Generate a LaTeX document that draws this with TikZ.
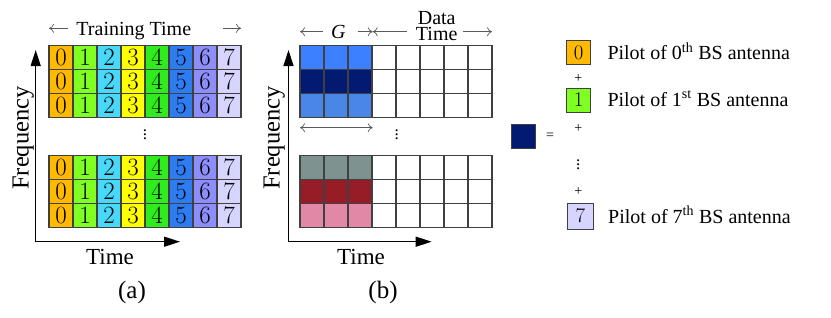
\documentclass[tikz,border=0pt]{standalone}
\usepackage[no-math]{fontspec}
\setmainfont{Liberation Serif}
\usetikzlibrary{arrows.meta,positioning,calc}

\definecolor{pil0}{HTML}{FFBA00}
\definecolor{pil1}{HTML}{80FF22}
\definecolor{pil2}{HTML}{48D8FA}
\definecolor{pil3}{HTML}{FFFF00}
\definecolor{pil4}{HTML}{30EC1E}
\definecolor{pil5}{HTML}{2E7CF2}
\definecolor{pil6}{HTML}{8E8EFA}
\definecolor{pil7}{HTML}{D5D5FF}
\definecolor{gblue}{HTML}{3D80FF}
\definecolor{gnavy}{HTML}{021A72}
\definecolor{gsky}{HTML}{4A86E6}
\definecolor{ggray}{HTML}{7E9290}
\definecolor{gred}{HTML}{961C28}
\definecolor{gpink}{HTML}{E088A6}
\definecolor{gridline}{HTML}{404040}

\begin{document}
\begin{tikzpicture}[
  x=1pt, y=-1pt,
  cell/.style={draw=gridline, line width=1.2pt, minimum size=24pt, inner sep=0pt, outer sep=0pt},
  digit/.style={font=\fontsize{27}{27}\selectfont},
  keydigit/.style={font=\fontsize{22}{22}\selectfont},
  lbl/.style={font=\fontsize{20}{24}\selectfont, inner sep=0pt},
  axlbl/.style={font=\fontsize{23}{23}\selectfont, inner sep=0pt},
  sym/.style={font=\fontsize{14}{14}\selectfont, inner sep=0pt},
  dots/.style={font=\fontsize{17}{17}\selectfont, inner sep=0pt},
  axis/.style={line width=1.3pt, {Triangle[length=16pt,width=10pt]}-{Triangle[length=16pt,width=10pt]}},
  spanarrow/.style={draw=gray!70!black, line width=0.7pt, -{To[length=5pt,width=9pt]}}
]
\useasboundingbox (0,0) rectangle (831,317);

% (a) training grid
\foreach \r/\y in {0/57.5,1/81.5,2/105.5,3/167.5,4/191.5,5/215.5}
  \foreach \c in {0,...,7}
    \node[cell, fill=pil\c, digit] (a-\r-\c) at (61+24*\c,\y) {$\c$};
\node[dots] (adots) at (145,132) {$\vdots$};

\node[lbl, anchor=base] (ttime) at (133.8,35) {Training Time};
\coordinate (tal) at (68,28.3);
\coordinate (tar) at (223,28.3);
\draw[spanarrow] (tal) -- (tal -| a-0-0.west);
\draw[spanarrow] (tar) -- (tar -| a-0-7.east);

\coordinate (fa) at (35.7,50);
\coordinate (oa) at (35.7,241.7);
\coordinate (ea) at (180,241.7);
\draw[axis] (fa) -- (oa) -- (ea);
\node[axlbl, rotate=90, anchor=base, font=\fontsize{24.5}{24.5}\selectfont] (freqa) at (28.5,138) {Frequency};
\node[axlbl, anchor=base] (timea) at (110,264) {Time};
\node[axlbl, anchor=base, font=\fontsize{25}{25}\selectfont] (capa) at (132,298) {(a)};

% (b) data grid
\foreach \r/\y/\col in {0/57.5/gblue,1/81.5/gnavy,2/105.5/gsky,3/167.5/ggray,4/191.5/gred,5/215.5/gpink}{
  \foreach \c in {0,1,2}
    \node[cell, fill=\col] (b-\r-\c) at (312+24*\c,\y) {};
  \foreach \c in {3,...,7}
    \node[cell, fill=white] (b-\r-\c) at (312+24*\c,\y) {};
}
\node[dots] (bdots) at (396.7,132) {$\vdots$};
\coordinate (gl) at (300,127.7);
\coordinate (gr) at (372.7,127.7);
\draw[spanarrow, {To[length=5pt,width=9pt]}-{To[length=5pt,width=9pt]}] (gl) -- (gr);

\node[lbl, anchor=base] (glen) at (338.3,38.5) {\itshape G};
\coordinate (gal) at (323,31.7);
\coordinate (gar) at (357.7,31.7);
\coordinate (gx) at (372.7,31.7);
\coordinate (dal) at (406.7,31.7);
\coordinate (dar) at (463,31.7);
\draw[spanarrow] (gal) -- (gal -| b-0-0.west);
\draw[spanarrow] (gar) -- (gx);
\draw[spanarrow] (dal) -- (gx);
\draw[spanarrow] (dar) -- (dar -| b-0-7.east);
\node[lbl, align=center, font=\fontsize{20}{15.7}\selectfont] (dtime) at (436.7,26) {Data\\Time};

\coordinate (fb) at (288.5,50);
\coordinate (ob) at (288.5,241.7);
\coordinate (eb) at (431.7,241.7);
\draw[axis] (fb) -- (ob) -- (eb);
\node[axlbl, rotate=90, anchor=base, font=\fontsize{24.5}{24.5}\selectfont] (freqb) at (279.5,138) {Frequency};
\node[axlbl, anchor=base] (timeb) at (361,264) {Time};
\node[axlbl, anchor=base, font=\fontsize{25}{25}\selectfont] (capb) at (383,298) {(b)};

% legend
\node[cell, fill=gnavy] (knavy) at (523.7,136.3) {};
\node[sym] (keq) at (550,136) {=};
\node[cell, fill=pil0, keydigit] (k0) at (578.7,52.5) {$0$};
\node[cell, fill=pil1, keydigit] (k1) at (578.7,100.3) {$1$};
\node[cell, fill=pil7, keydigit, minimum size=26pt] (k7) at (580.5,216.3) {$7$};
\node[sym] (kp1) at (578.3,79) {+};
\node[sym] (kp2) at (578.3,129) {+};
\node[dots] (kdots) at (578.3,161.7) {$\vdots$};
\node[sym] (kp3) at (578.3,191.7) {+};
\node[lbl, right=16.6pt of k0, yshift=1.5pt] (t0) {Pilot of 0\textsuperscript{th} BS antenna};
\node[lbl, right=16.6pt of k1, yshift=1.5pt] (t1) {Pilot of 1\textsuperscript{st} BS antenna};
\node[lbl, right=14.5pt of k7, yshift=1.5pt] (t7) {Pilot of 7\textsuperscript{th} BS antenna};
\end{tikzpicture}
\end{document}
